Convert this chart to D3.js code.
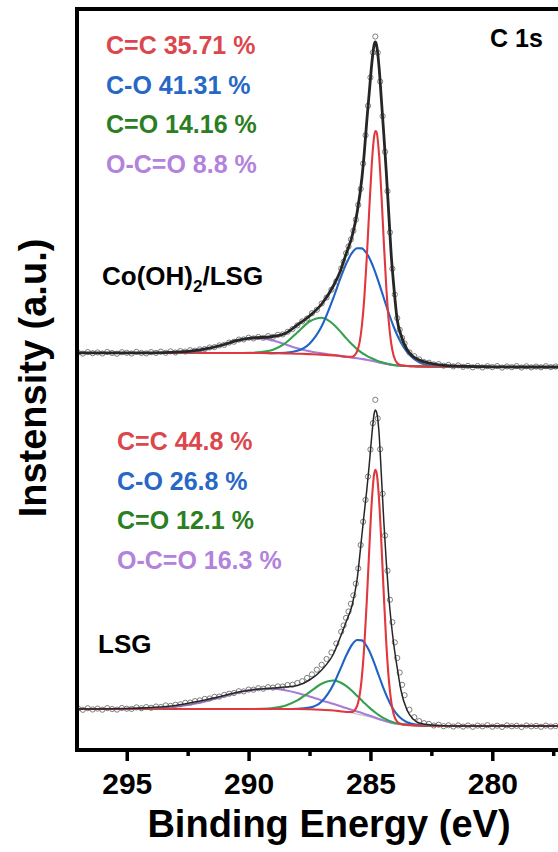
<!DOCTYPE html>
<html>
<head>
<meta charset="utf-8">
<script src="https://cdn.jsdelivr.net/npm/d3@7"></script>
<style>
  body { margin: 0; background: #fff; }
  svg { display: block; font-family: "Liberation Sans", Arial, Helvetica, sans-serif; font-weight: bold; }
</style>
</head>
<body>
<svg id="chart" width="558" height="852"></svg>
<script>
// binding energy grid of the fitted curves (eV)
let fitBE = [297, 295, 294, 293, 292, 291, 290.5, 290, 289.5, 289, 288.5, 288, 287.5, 287,
  286.5, 286.25, 286, 285.75, 285.55, 285.35, 285.25, 285.15, 285.05, 284.95,
  284.85, 284.8, 284.75, 284.65, 284.55, 284.45, 284.35, 284.25, 284.15, 284.05,
  283.9, 283.75, 283.5, 283.25, 283, 282.5, 282, 281, 280, 279, 278, 277.3];

// Co(OH)2/LSG fit (a.u., stacked spectrum)
let coBg  = [397, 397, 397, 397, 397, 397, 397, 397, 397, 396.8, 396.6, 396.3, 395.9, 395.4,
  394.6, 394, 393.2, 392.4, 391.7, 391, 390.6, 390.2, 389.8, 389.3,
  388.8, 388.5, 388.2, 387.6, 387.1, 386.6, 386.1, 385.6, 385.2, 384.9,
  384.5, 384.3, 384, 383.8, 383.6, 383.4, 383.3, 383.2, 383, 383, 383, 383];
let coCC  = [397, 397, 397, 397, 397, 397, 397, 397, 397, 396.8, 396.6, 396.3, 395.9, 395.4,
  394.6, 394, 393.2, 393.3, 398.5, 424.5, 452.7, 492.5, 539.5, 583.8,
  613.1, 618.9, 618, 596.4, 555.7, 507.4, 463, 429, 407, 394.6,
  386.8, 384.7, 384, 383.8, 383.6, 383.4, 383.3, 383.2, 383, 383, 383, 383];
let coCO  = [397, 397, 397, 397, 397, 397, 397, 397, 397, 396.9, 397.2, 399.2, 406.3, 423.7,
  453.5, 470.5, 485.9, 497.3, 501.8, 501.6, 499.6, 496.5, 492.3, 487,
  480.9, 477.6, 474.1, 466.9, 459.4, 451.8, 444.3, 436.9, 430, 423.5,
  414.8, 407.5, 398.1, 391.8, 387.8, 384.4, 383.5, 383.2, 383, 383, 383, 383];
let coCdO = [397, 397, 397, 397, 397, 397, 397, 397.2, 397.9, 400.3, 406.7, 417.5, 428.5, 432.3,
  425.3, 418.9, 411.9, 405.4, 400.9, 397.2, 395.6, 394.2, 392.9, 391.7,
  390.7, 390.2, 389.6, 388.6, 387.9, 387.2, 386.5, 385.9, 385.4, 385,
  384.5, 384.3, 384, 383.8, 383.6, 383.4, 383.3, 383.2, 383, 383, 383, 383];
let coOCO = [397, 397, 397, 397.3, 399.4, 405.3, 409, 411.5, 411.8, 409.4, 405.7, 401.8, 398.7, 396.6,
  395, 394.2, 393.3, 392.4, 391.7, 391, 390.6, 390.2, 389.8, 389.3,
  388.8, 388.5, 388.2, 387.6, 387.1, 386.6, 386.1, 385.6, 385.2, 384.9,
  384.5, 384.3, 384, 383.8, 383.6, 383.4, 383.3, 383.2, 383, 383, 383, 383];
let coEnv = [397.2, 397.2, 397.2, 397.8, 400.2, 405.5, 409.4, 411.7, 412.5, 413.5, 416.5, 425, 434, 446,
  465, 478, 496, 514, 537, 572, 598, 629, 657, 685,
  705, 708, 705, 684, 650, 615, 578, 537, 496, 466,
  430, 415, 400.5, 393.5, 390, 386.5, 384.7, 383.6, 383.2, 383, 383, 383];

// LSG fit (a.u.)
let lsgBg  = [41, 41, 41, 41, 41, 41, 41, 41, 41, 41, 41, 41, 40.7, 40.2,
  39.5, 38.8, 38, 37, 36, 35, 34.4, 33.8, 33.2, 32.5,
  31.8, 31.4, 31, 30.3, 29.6, 28.9, 28.2, 27.6, 27, 26.5,
  26, 25.6, 25.1, 24.8, 24.5, 24.2, 24, 24, 24, 24, 24, 24];
let lsgCC  = [41, 41, 41, 41, 41, 41, 41, 41, 41, 41, 41, 41, 40.7, 40.2,
  39.5, 38.8, 38, 38, 44, 73.6, 105.1, 149, 199.8, 246.4,
  275.6, 280.3, 277.6, 251.9, 206.4, 154.1, 106.9, 71.6, 48.8, 36.1,
  28.2, 26, 25.1, 24.8, 24.5, 24.2, 24, 24, 24, 24, 24, 24];
let lsgCO  = [41, 41, 41, 41, 41, 41, 41, 41, 41, 41, 41, 41.2, 42.4, 48.6,
  66.6, 80.1, 94.2, 105.5, 110, 109.6, 107.3, 103.8, 99.2, 93.6,
  87.4, 84.1, 80.7, 74, 67.3, 60.8, 54.8, 49.4, 44.5, 40.3,
  35.4, 31.7, 27.8, 25.9, 24.9, 24.2, 24, 24, 24, 24, 24, 24];
let lsgCdO = [41, 41, 41, 41, 41, 41, 41, 41, 41.2, 41.9, 44.3, 49.6, 57.9, 66.3,
  69.5, 67.8, 64.1, 59, 54.2, 49.4, 47, 44.7, 42.6, 40.4,
  38.4, 37.5, 36.5, 34.8, 33.2, 31.8, 30.5, 29.4, 28.4, 27.6,
  26.7, 26.1, 25.3, 24.8, 24.5, 24.2, 24, 24, 24, 24, 24, 24];
let lsgOCO = [41, 41.1, 41.6, 43.3, 47.4, 53.8, 57.1, 59.8, 61.3, 61.3, 59.8, 57.1, 53.5, 49.6,
  45.9, 43.9, 42, 40.1, 38.5, 37, 36.1, 35.3, 34.5, 33.7,
  32.8, 32.4, 31.9, 31.1, 30.3, 29.5, 28.7, 28, 27.35, 26.8,
  26.2, 25.75, 25.2, 24.8, 24.55, 24.2, 24, 24, 24, 24, 24, 24];
let lsgEnv = [41, 41.5, 42.5, 44.5, 49, 54.5, 57.5, 59.5, 61, 62, 63, 64.5, 70, 80,
  97, 112, 128, 145, 170, 215, 238, 260, 285, 313,
  336, 340, 338, 318, 274, 228, 188, 154, 128, 107,
  82, 60, 40, 31, 27, 25, 24.3, 24, 24, 24, 24, 24];

// measured points (eV / a.u.)
let rawBE = [297, 296.8, 296.6, 296.4, 296.2, 296, 295.8, 295.6, 295.4, 295.2, 295, 294.8, 294.6, 294.4,
  294.2, 294, 293.8, 293.6, 293.4, 293.2, 293, 292.8, 292.6, 292.4, 292.2, 292, 291.8, 291.6,
  291.4, 291.2, 291, 290.8, 290.6, 290.4, 290.2, 290, 289.8, 289.6, 289.4, 289.2, 289, 288.8,
  288.6, 288.4, 288.2, 288, 287.8, 287.6, 287.4, 287.2, 287, 286.8, 286.6, 286.4, 286.2,
  286.1, 286, 285.9, 285.8, 285.7, 285.6, 285.5, 285.4, 285.3, 285.2, 285.1, 285, 284.9,
  284.8, 284.7, 284.6, 284.5, 284.4, 284.3, 284.2, 284.1, 284, 283.9, 283.8, 283.7, 283.6,
  283.4, 283.2, 283, 282.8, 282.6, 282.4, 282.2, 282, 281.8, 281.6, 281.4, 281.2, 281, 280.8,
  280.6, 280.4, 280.2, 280, 279.8, 279.6, 279.4, 279.2, 279, 278.8, 278.6, 278.4, 278.2, 278,
  277.8, 277.6, 277.4];
let coRaw = [397.5, 396.4, 397.9, 396.8, 397.6, 396.5, 398.0, 397.0, 396.3, 397.8, 397.2, 396.5, 398.1, 397.0,
  396.6, 397.9, 397.1, 398.3, 397.2, 398.6, 397.5, 398.9, 398.4, 399.8, 399.3, 400.6, 400.9, 402.5,
  402.9, 404.6, 405.2, 407.4, 408.3, 410.4, 410.6, 412.3, 411.6, 413.0, 412.2, 413.9, 413.1, 415.2,
  415.6, 418.2, 420.9, 424.6, 428.6, 431.5, 436.8, 440.2, 446.5, 452.5, 460.3, 468.6, 481.5,
  488.3, 496.8, 503.5, 510.6, 519.2, 530.4, 545.1, 561, 586.5, 614.8, 644.2, 672.5, 697.6,
  713.5, 697.3, 668.5, 633.8, 598.2, 558.8, 517.6, 481.2, 455.5, 431.8, 420.2, 412.1, 406.5,
  397.6, 393.8, 390.6, 387.9, 387.3, 385.6, 385.9, 384.3, 385.1, 383.6, 384.6, 383.2, 384.1, 382.7,
  383.9, 382.6, 383.8, 382.9, 383.9, 382.4, 383.6, 382.8, 383.9, 382.5, 383.7, 382.6, 383.4, 382.7,
  383.8, 382.9, 383.5];
let lsgRaw = [41.6, 40.2, 41.8, 40.5, 41.4, 40.3, 41.9, 41.0, 40.4, 42.0, 41.3, 41.1, 42.6, 41.8,
  42.9, 42.2, 43.5, 43.0, 44.6, 44.1, 45.3, 45.7, 47.2, 47.4, 48.9, 49.6, 51.1, 51.5,
  53.2, 53.4, 55.1, 56.3, 57.0, 58.8, 58.6, 60.4, 60.3, 61.8, 61.3, 62.8, 62.4, 63.6,
  63.5, 65.0, 65.3, 67.0, 68.8, 72.1, 75.6, 80.3, 85.2, 91.0, 97.6, 106.5, 118.3,
  124.6, 132.1, 138.5, 146.2, 154.6, 166.3, 181.6, 205.0, 228.2, 250.1, 273.4, 300.5, 326.8,
  350.2, 331.6, 300.8, 256.2, 214.5, 179.3, 150.2, 127.8, 107.6, 92.0, 77.5, 65.2, 54.8,
  40.3, 32.8, 28.9, 26.8, 26.1, 24.5, 25.3, 23.8, 24.7, 23.5, 24.6, 23.4, 24.5, 23.2,
  24.4, 23.6, 24.8, 23.3, 24.3, 23.1, 24.6, 23.7, 24.2, 23.0, 24.5, 23.6, 24.1, 23.2,
  24.4, 23.5, 24.0];

let xTicks = [295, 290, 285, 280];
let xMinor = [292.5, 287.5, 282.5, 277.5];

let coLegend  = ["C=C 35.71 %", "C-O 41.31 %", "C=O 14.16 %", "O-C=O 8.8 %"];
let lsgLegend = ["C=C 44.8 %", "C-O 26.8 %", "C=O 12.1 %", "O-C=O 16.3 %"];

// colours
let lineCol = { cc: "#e0383e", co: "#1f63c6", cdo: "#35a04f", oco: "#a77bd8", bg: "#c4c4c4" };
let textCol = ["#db474c", "#2768c6", "#2b7e22", "#b282dc"];

let svg = d3.select("#chart");

let x = d3.scaleLinear().domain([297, 277]).range([78, 565.4]);
let y = d3.scaleLinear().domain([0, 741]).range([750, 9]);

svg.append("defs").append("clipPath").attr("id", "plot")
  .append("rect")
  .attr("x", x(297)).attr("y", y(741))
  .attr("width", 558 - x(297)).attr("height", y(0) - y(741));

let plot = svg.append("g").attr("clip-path", "url(#plot)");

let line = d3.line()
  .x((d, i) => x(fitBE[i]))
  .y(d => y(d))
  .curve(d3.curveMonotoneX);

function drawSpectrum(s) {
  plot.append("path").datum(s.bg)
    .attr("fill", "none").attr("stroke", lineCol.bg).attr("stroke-width", 1.2)
    .attr("d", line);
  [[s.oco, lineCol.oco], [s.cdo, lineCol.cdo], [s.co, lineCol.co], [s.cc, lineCol.cc]]
    .forEach(c => {
      plot.append("path").datum(c[0])
        .attr("fill", "none").attr("stroke", c[1]).attr("stroke-width", 2.1)
        .attr("d", line);
    });
  // measured points
  plot.append("g").selectAll("circle")
    .data(s.raw)
    .enter().append("circle")
      .attr("cx", (d, i) => x(rawBE[i]))
      .attr("cy", d => y(d))
      .attr("r", 2.6)
      .attr("fill", "none")
      .attr("stroke", "#6e6e6e")
      .attr("stroke-width", 0.9);
  // envelope
  plot.append("path").datum(s.env)
    .attr("fill", "none").attr("stroke", "#262626").attr("stroke-width", s.envW)
    .attr("d", line);
}

drawSpectrum({ bg: coBg, cc: coCC, co: coCO, cdo: coCdO, oco: coOCO, env: coEnv, raw: coRaw, envW: 2.8 });
drawSpectrum({ bg: lsgBg, cc: lsgCC, co: lsgCO, cdo: lsgCdO, oco: lsgOCO, env: lsgEnv, raw: lsgRaw, envW: 1.5 });

// frame (right side falls outside the picture)
svg.append("path")
  .attr("d", `M${x(277)},${y(741)} H${x(297) - 1} V${y(0)} H${x(277)}`)
  .attr("fill", "none").attr("stroke", "#000").attr("stroke-width", 4);

// bottom axis
let xAxis = svg.append("g")
  .attr("transform", `translate(0,${y(0)})`)
  .call(d3.axisBottom(x).tickValues(xTicks).tickSize(11).tickPadding(12).tickFormat(d3.format("d")));
xAxis.select(".domain").remove();
xAxis.selectAll("line").attr("stroke", "#000").attr("stroke-width", 3.5);
xAxis.selectAll("text")
  .attr("fill", "#000")
  .style("font-size", "30px")
  .style("font-weight", "bold")
  .style("font-family", "'Liberation Sans', Arial, sans-serif");

let xMinorAxis = svg.append("g")
  .attr("transform", `translate(0,${y(0)})`)
  .call(d3.axisBottom(x).tickValues(xMinor).tickSize(6).tickFormat(""));
xMinorAxis.select(".domain").remove();
xMinorAxis.selectAll("line").attr("stroke", "#000").attr("stroke-width", 3.5);

// axis titles
svg.append("text")
  .attr("x", 329).attr("y", 837)
  .attr("text-anchor", "middle")
  .style("font-size", "38px")
  .text("Binding Energy (eV)");

svg.append("text")
  .attr("transform", "translate(46,378) rotate(-90)")
  .attr("text-anchor", "middle")
  .style("font-size", "38px")
  .text("Instensity (a.u.)");

// component labels
function legend(items, lx, ly) {
  svg.append("g").selectAll("text")
    .data(items)
    .enter().append("text")
      .attr("x", lx)
      .attr("y", (d, i) => ly + i * 39.7)
      .attr("fill", (d, i) => textCol[i])
      .style("font-size", "25px")
      .text(d => d);
}
legend(coLegend, 106, 54);
legend(lsgLegend, 117, 450);

svg.append("text").attr("x", 490).attr("y", 47)
  .style("font-size", "25px").text("C 1s");

let coLabel = svg.append("text").attr("x", 102).attr("y", 285).style("font-size", "26px");
coLabel.append("tspan").text("Co(OH)");
coLabel.append("tspan").attr("dy", 7).style("font-size", "17px").text("2");
coLabel.append("tspan").attr("dy", -7).text("/LSG");

svg.append("text").attr("x", 98).attr("y", 653)
  .style("font-size", "26px").text("LSG");
</script>
</body>
</html>
